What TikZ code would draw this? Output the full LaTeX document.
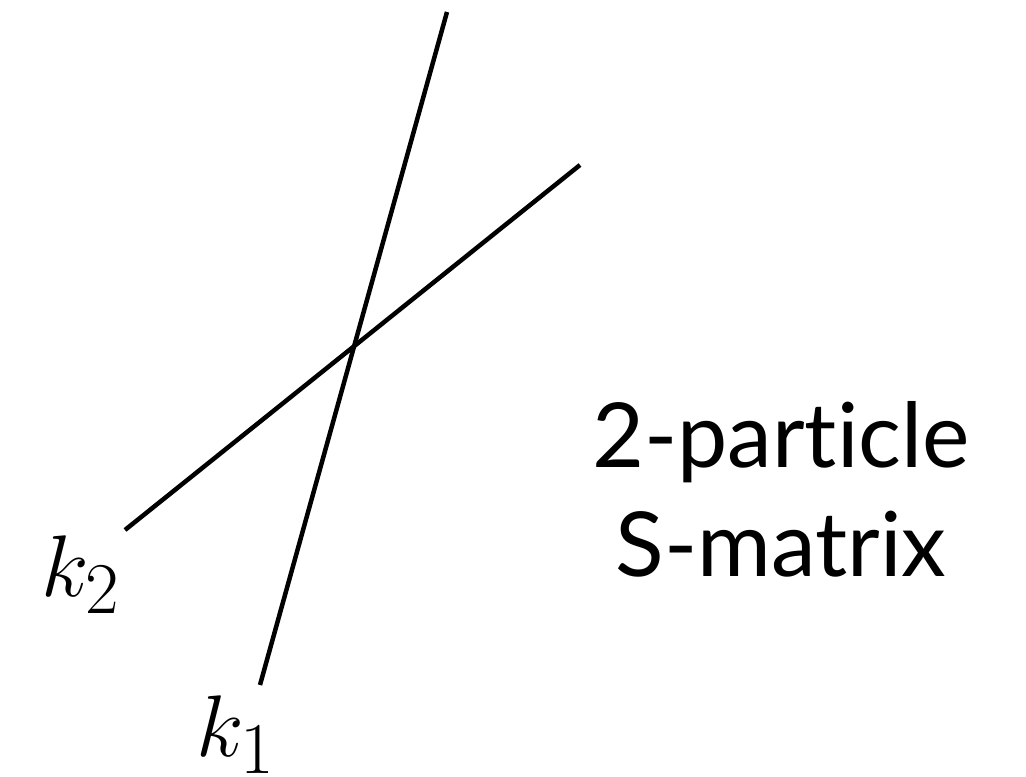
\documentclass[tikz,border=0pt]{standalone}
\usepackage{fontspec}
\setmainfont{Lato}[Ligatures=NoCommon]
\usepackage{amsmath}
\usetikzlibrary{positioning}
\tikzset{leg/.style={line width=0.045cm,line cap=butt}}
\tikzset{mom/.style={anchor=base,font=\fontsize{27.5}{31}\selectfont}}
\tikzset{caption/.style={anchor=base,font=\fontsize{25.5}{31}\selectfont}}
\begin{document}
\begin{tikzpicture}[x={(0.01cm,0)},y={(0,-0.01cm)}]
	\useasboundingbox (0,0) rectangle (1026,777);
		\coordinate (a1) at (260,685);
		\coordinate (b1) at (447,12);
		\coordinate (a2) at (125,530);
		\coordinate (b2) at (580,165);

		\draw[leg] (a1) -- (b1);
		\draw[leg] (a2) -- (b2);

		\node[mom] (k1) at (236,757) {$k_1$};
		\node[mom] (k2) at (81,597) {$k_2$};
		\node[caption] (top) at (781,468) {2-particle};
		\node[caption] (bot) at (781,577) {S-matrix};
\end{tikzpicture}
\end{document}
